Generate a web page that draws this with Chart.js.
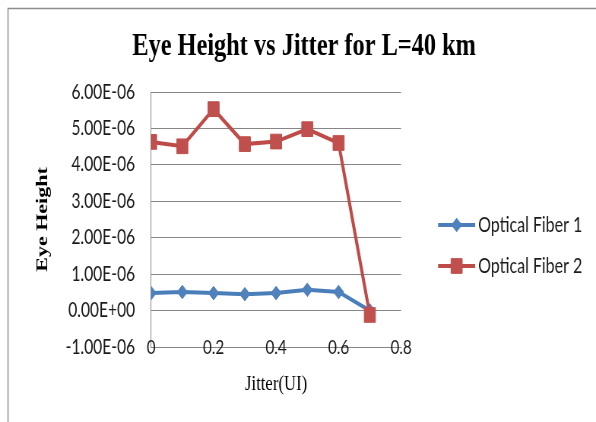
<!DOCTYPE html>
<html>
<head>
<meta charset="utf-8">
<script src="https://cdn.jsdelivr.net/npm/chart.js@4"></script>
<style>
  html, body { margin: 0; padding: 0; background: #fff; overflow: hidden; }
  #squeeze { width: 784px; height: 422px; transform: scaleX(0.7602); transform-origin: 0 0; }
  #wrap { position: relative; width: 784px; height: 422px; }
</style>
</head>
<body>
<div id="squeeze"><div id="wrap"><canvas id="c"></canvas></div></div>
<script>
// Jitter (UI) sample points
const jitter = [0, 0.1, 0.2, 0.3, 0.4, 0.5, 0.6, 0.7];
// Eye height per fiber
const fiber1 = [0.48e-6, 0.51e-6, 0.48e-6, 0.45e-6, 0.48e-6, 0.57e-6, 0.51e-6, 0.0];
const fiber2 = [4.63e-6, 4.51e-6, 5.53e-6, 4.57e-6, 4.64e-6, 4.98e-6, 4.60e-6, -0.12e-6];
const seriesNames = ['Optical Fiber 1', 'Optical Fiber 2'];
// Axis ticks
const xTicks = [0, 0.2, 0.4, 0.6, 0.8];
const xTickLabels = ['0', '0.2', '0.4', '0.6', '0.8'];
const yTicks = [-1e-6, 0, 1e-6, 2e-6, 3e-6, 4e-6, 5e-6, 6e-6];

const toPoints = ys => jitter.map((x, i) => ({ x, y: ys[i] }));

function sci(v) {
  if (Math.abs(v) < 1e-15) return '0.00E+00';
  const [m, e] = v.toExponential(2).split('e');
  const n = parseInt(e, 10);
  return m + 'E' + (n < 0 ? '-' : '+') + String(Math.abs(n)).padStart(2, '0');
}

// Outer frame of the chart
const framePlugin = {
  id: 'frame',
  beforeDraw(chart) {
    const ctx = chart.ctx;
    ctx.save();
    ctx.fillStyle = '#ffffff';
    ctx.fillRect(0, 0, chart.width, chart.height);
    ctx.strokeStyle = '#8e8e8e';
    ctx.lineWidth = 1.5;
    ctx.strokeRect(10.5, 8.5, chart.width + 20, chart.height + 20);
    ctx.restore();
  }
};

// X tick labels sit centred on the axis line itself
const xLabelsOnAxis = {
  id: 'xLabelsOnAxis',
  afterDraw(chart) {
    const { ctx, scales: { x }, chartArea: a } = chart;
    ctx.save();
    ctx.fillStyle = '#1a1a1a';
    ctx.font = '20px Lato';
    ctx.textAlign = 'center';
    ctx.textBaseline = 'middle';
    xTicks.forEach((v, i) => ctx.fillText(xTickLabels[i], x.getPixelForValue(v), a.bottom + 1));
    ctx.restore();
  }
};

// Legend with a line sample and marker, to the right of the plot
const lineLegend = {
  id: 'lineLegend',
  afterDraw(chart) {
    const { ctx, chartArea: a } = chart;
    const mid = (a.top + a.bottom) / 2;
    ctx.save();
    chart.data.datasets.forEach((ds, i) => {
      const y = mid + 5.5 + i * 41;
      const x0 = a.right + 48.7, x1 = x0 + 48.7;
      ctx.strokeStyle = ds.borderColor;
      ctx.lineWidth = 4;
      ctx.beginPath();
      ctx.moveTo(x0, y);
      ctx.lineTo(x1, y);
      ctx.stroke();
      ctx.fillStyle = ds.pointBackgroundColor;
      ctx.strokeStyle = ds.pointBorderColor;
      ctx.lineWidth = 1;
      Chart.helpers.drawPoint(ctx, { pointStyle: ds.pointStyle, radius: ds.pointRadius, rotation: 0, borderWidth: 1 }, (x0 + x1) / 2, y);
      ctx.fillStyle = '#1a1a1a';
      ctx.font = '21px Lato';
      ctx.textAlign = 'left';
      ctx.textBaseline = 'middle';
      ctx.fillText(ds.label, a.right + 101.4, y);
    });
    ctx.restore();
  }
};

new Chart(document.getElementById('c'), {
  type: 'line',
  data: {
    datasets: [
      {
        label: seriesNames[0],
        data: toPoints(fiber1),
        borderColor: '#4A7EBB',
        borderWidth: 4,
        pointStyle: 'rectRot',
        pointRadius: 6.8,
        pointBackgroundColor: '#4F81BD',
        pointBorderColor: '#4F81BD',
        pointBorderWidth: 1,
        tension: 0,
        order: 1
      },
      {
        label: seriesNames[1],
        data: toPoints(fiber2),
        borderColor: '#BE4B48',
        borderWidth: 4,
        pointStyle: 'rect',
        pointRadius: 10.4,
        pointBackgroundColor: '#C0504D',
        pointBorderColor: '#C0504D',
        pointBorderWidth: 1,
        tension: 0,
        order: 0
      }
    ]
  },
  options: {
    responsive: true,
    maintainAspectRatio: false,
    animation: false,
    layout: { padding: { left: 16, right: 0, top: 0, bottom: 0 } },
    plugins: {
      legend: { display: false },
      tooltip: { enabled: false },
      title: {
        display: true,
        text: 'Eye Height vs Jitter for L=40 km',
        color: '#000',
        font: { family: 'Liberation Serif', size: 32, weight: 'bold', lineHeight: 1 },
        padding: { top: 31, bottom: 29 }
      }
    },
    scales: {
      x: {
        type: 'linear',
        min: 0,
        max: 0.8,
        afterBuildTicks: s => { s.ticks = xTicks.map(v => ({ value: v })); },
        afterFit: s => { s.height = 75; },
        grid: { display: false, drawTicks: false },
        border: { display: true, color: '#868686', width: 1 },
        ticks: { display: false },
        title: {
          display: true,
          text: 'Jitter(UI)',
          color: '#000',
          font: { family: 'Liberation Serif', size: 22 },
          padding: { top: 0, bottom: 24.8 }
        }
      },
      y: {
        type: 'linear',
        position: 'left',
        min: -1e-6,
        max: 6e-6,
        afterBuildTicks: s => { s.ticks = yTicks.map(v => ({ value: v })); },
        afterFit: s => { s.width = 182.7; },
        grid: { color: '#868686', lineWidth: 1, drawTicks: false },
        border: { display: true, color: '#868686', width: 1 },
        ticks: {
          padding: 21,
          color: '#1a1a1a',
          font: { family: 'Lato', size: 20.5 },
          callback: v => sci(v)
        },
        title: {
          display: true,
          text: 'Eye Height',
          color: '#000',
          font: { family: 'Liberation Serif', size: 22, weight: 'bold' },
          padding: { top: 27.4, bottom: 0 }
        }
      },
      side: {
        type: 'linear',
        position: 'right',
        display: true,
        grid: { display: false, drawTicks: false },
        border: { display: false },
        ticks: { display: false },
        afterFit: s => { s.width = 256.4; }
      }
    }
  },
  plugins: [framePlugin, xLabelsOnAxis, lineLegend]
});
</script>
</body>
</html>
